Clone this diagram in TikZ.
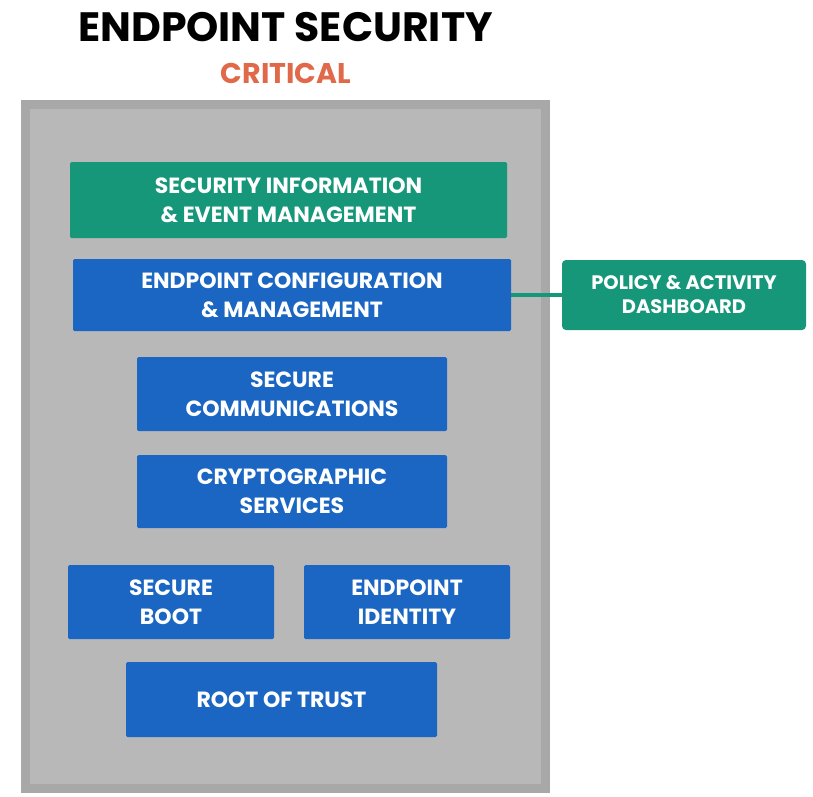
\documentclass[tikz,border=0pt]{standalone}
\usepackage{fontspec}
\setmainfont{Poppins}
\usepackage{tikz}
\definecolor{myframe}{HTML}{A8A8A8}
\definecolor{mygrey}{HTML}{B8B8B8}
\definecolor{mygreen}{HTML}{17977A}
\definecolor{myblue}{HTML}{1A66C2}
\definecolor{myorange}{HTML}{E0694A}
\tikzset{
  layer/.style={fill=myblue, text=white, font=\bfseries\fontsize{22}{29}\selectfont, align=center, inner sep=0pt, rounded corners=1.5pt},
  greenlayer/.style={layer, fill=mygreen},
  link/.style={draw=mygreen, line width=4pt}
}
\begin{document}
\begin{tikzpicture}[x=1pt,y=-1pt]
          \useasboundingbox (0,0) rectangle (813,796);
          % title
          \node (title) at (285.5,27) {\bfseries\fontsize{41}{43}\selectfont ENDPOINT SECURITY};
          \node[text=myorange] (crit) at (286,73) {\bfseries\fontsize{28.5}{30}\selectfont CRITICAL};
          % grey frame
          \node[draw=myframe, fill=mygrey, line width=9pt, minimum width=520pt, minimum height=684pt, inner sep=0pt] (frame) at (285.5,446.5) {};
          % layers
          \node[greenlayer, minimum width=437pt, minimum height=76pt] (siem) at (288.5,200) {SECURITY INFORMATION\\\& EVENT MANAGEMENT};
          \node[layer, minimum width=438pt, minimum height=72pt] (ecm) at (292,295) {ENDPOINT CONFIGURATION\\\& MANAGEMENT};
          \node[greenlayer, minimum width=244pt, minimum height=70pt, rounded corners=4pt, font=\bfseries\fontsize{19.5}{24}\selectfont] (policy) at (684,295) {POLICY \& ACTIVITY\\DASHBOARD};
          \node[layer, minimum width=310pt, minimum height=74pt] (comms) at (292,394) {SECURE\\COMMUNICATIONS};
          \node[layer, minimum width=310pt, minimum height=73pt] (crypto) at (292,491.5) {CRYPTOGRAPHIC\\SERVICES};
          \node[layer, minimum width=206pt, minimum height=74pt] (boot) at (171,602) {SECURE\\BOOT};
          \node[layer, minimum width=206pt, minimum height=74pt] (ident) at (407,602) {ENDPOINT\\IDENTITY};
          \node[layer, minimum width=311pt, minimum height=75pt] (root) at (281.5,699.5) {ROOT OF TRUST};
          % connector
          \draw[link] (ecm.east) -- (policy.west);
      \end{tikzpicture}
\end{document}
